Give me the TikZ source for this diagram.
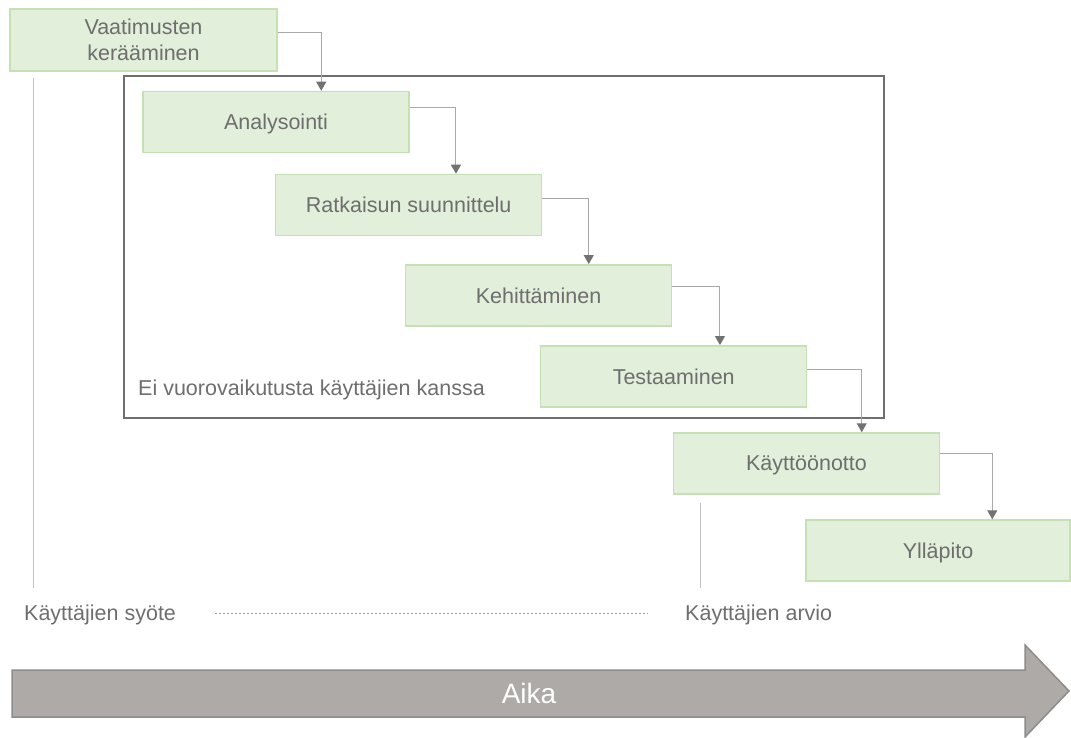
\documentclass[tikz,border=0pt]{standalone}
\usepackage{fontspec}
\setmainfont{Liberation Sans}
\usetikzlibrary{arrows.meta}

\definecolor{boxfill}{HTML}{E2EFDA}
\definecolor{boxdraw}{HTML}{C5E0B4}
\definecolor{textgray}{HTML}{6E6E6E}
\definecolor{conngray}{HTML}{A8A8A8}
\definecolor{tipgray}{HTML}{727272}
\definecolor{framegray}{HTML}{6E6E6E}
\definecolor{linegray}{HTML}{C0C0C0}
\definecolor{dotgray}{HTML}{A0A0A0}
\definecolor{timefill}{HTML}{AEAAA8}
\definecolor{timedraw}{HTML}{8C8C8C}

\begin{document}
\begin{tikzpicture}[x=1pt, y=-1pt,
  txt/.style={text=textgray, font=\fontsize{21.5}{26}\selectfont, inner sep=0pt},
  phase/.style={txt, draw=boxdraw, fill=boxfill, line width=1.5pt,
    minimum width=266pt, minimum height=61pt, align=center, text depth=0pt},
  link/.style={draw=conngray, line width=1pt,
    -{Triangle[width=10pt,length=9pt,color=tipgray]}},
  bracket/.style={draw=framegray, line width=2pt, minimum width=760.5pt,
    minimum height=342pt, inner sep=0pt},
  marker/.style={draw=linegray, line width=1pt},
  dotline/.style={draw=dotgray, line width=0.8pt, dash pattern=on 2pt off 2pt},
  timeline/.style={fill=timefill, draw=timedraw, line width=1.5pt, line join=miter}]
\useasboundingbox (0,0) rectangle (1071,738);

% frame around the phases without user interaction
\node[bracket] (noint) at (503.75,247) {};
\node[txt, anchor=base west] (nointlabel) at (138,395) {Ei vuorovaikutusta käyttäjien kanssa};

% phases
\node[phase, minimum width=267pt, minimum height=62pt] (b1) at (143.5,40) {Vaatimusten\\kerääminen};
\node[phase] (b2) at (276,122) {Analysointi};
\node[phase] (b3) at (408.7,205) {Ratkaisun suunnittelu};
\node[phase] (b4) at (538.5,295.3) {Kehittäminen};
\node[phase] (b5) at (673.7,376.3) {Testaaminen};
\node[phase] (b6) at (806.5,463.5) {Käyttöönotto};
\node[phase, minimum width=264pt] (b7) at (938,550.6) {Ylläpito};

% step connectors
\draw[link] ([yshift=-24pt]b1.north east) -| ([xshift=179pt]b2.north west);
\draw[link] ([yshift=-17pt]b2.north east) -| ([xshift=181pt]b3.north west);
\draw[link] ([yshift=-25pt]b3.north east) -| ([xshift=184pt]b4.north west);
\draw[link] ([yshift=-22pt]b4.north east) -| ([xshift=180pt]b5.north west);
\draw[link] ([yshift=-24pt]b5.north east) -| ([xshift=189pt]b6.north west);
\draw[link] ([yshift=-21pt]b6.north east) -| ([xshift=187pt]b7.north west);

% user input / evaluation markers
\coordinate (inTop) at (33,78);
\coordinate (inBot) at (33,588);
\coordinate (evTop) at (700,503);
\coordinate (evBot) at (700,588);
\draw[marker] (inTop) -- (inBot);
\draw[marker] (evTop) -- (evBot);

\node[txt, anchor=base west] (input) at (24,620.5) {Käyttäjien syöte};
\node[txt, anchor=base west] (review) at (685,620) {Käyttäjien arvio};
\coordinate (dotL) at (215,613);
\coordinate (dotR) at (648,613);
\draw[dotline] (dotL) -- (dotR);

% time arrow
\draw[timeline] (12,670) -- (1025,670) -- (1025,645) -- (1069,691)
  -- (1025,737) -- (1025,717) -- (12,717) -- cycle;
\node[text=white, font=\fontsize{28}{32}\selectfont, inner sep=0pt] (time) at (529,693.5) {Aika};
\end{tikzpicture}
\end{document}
